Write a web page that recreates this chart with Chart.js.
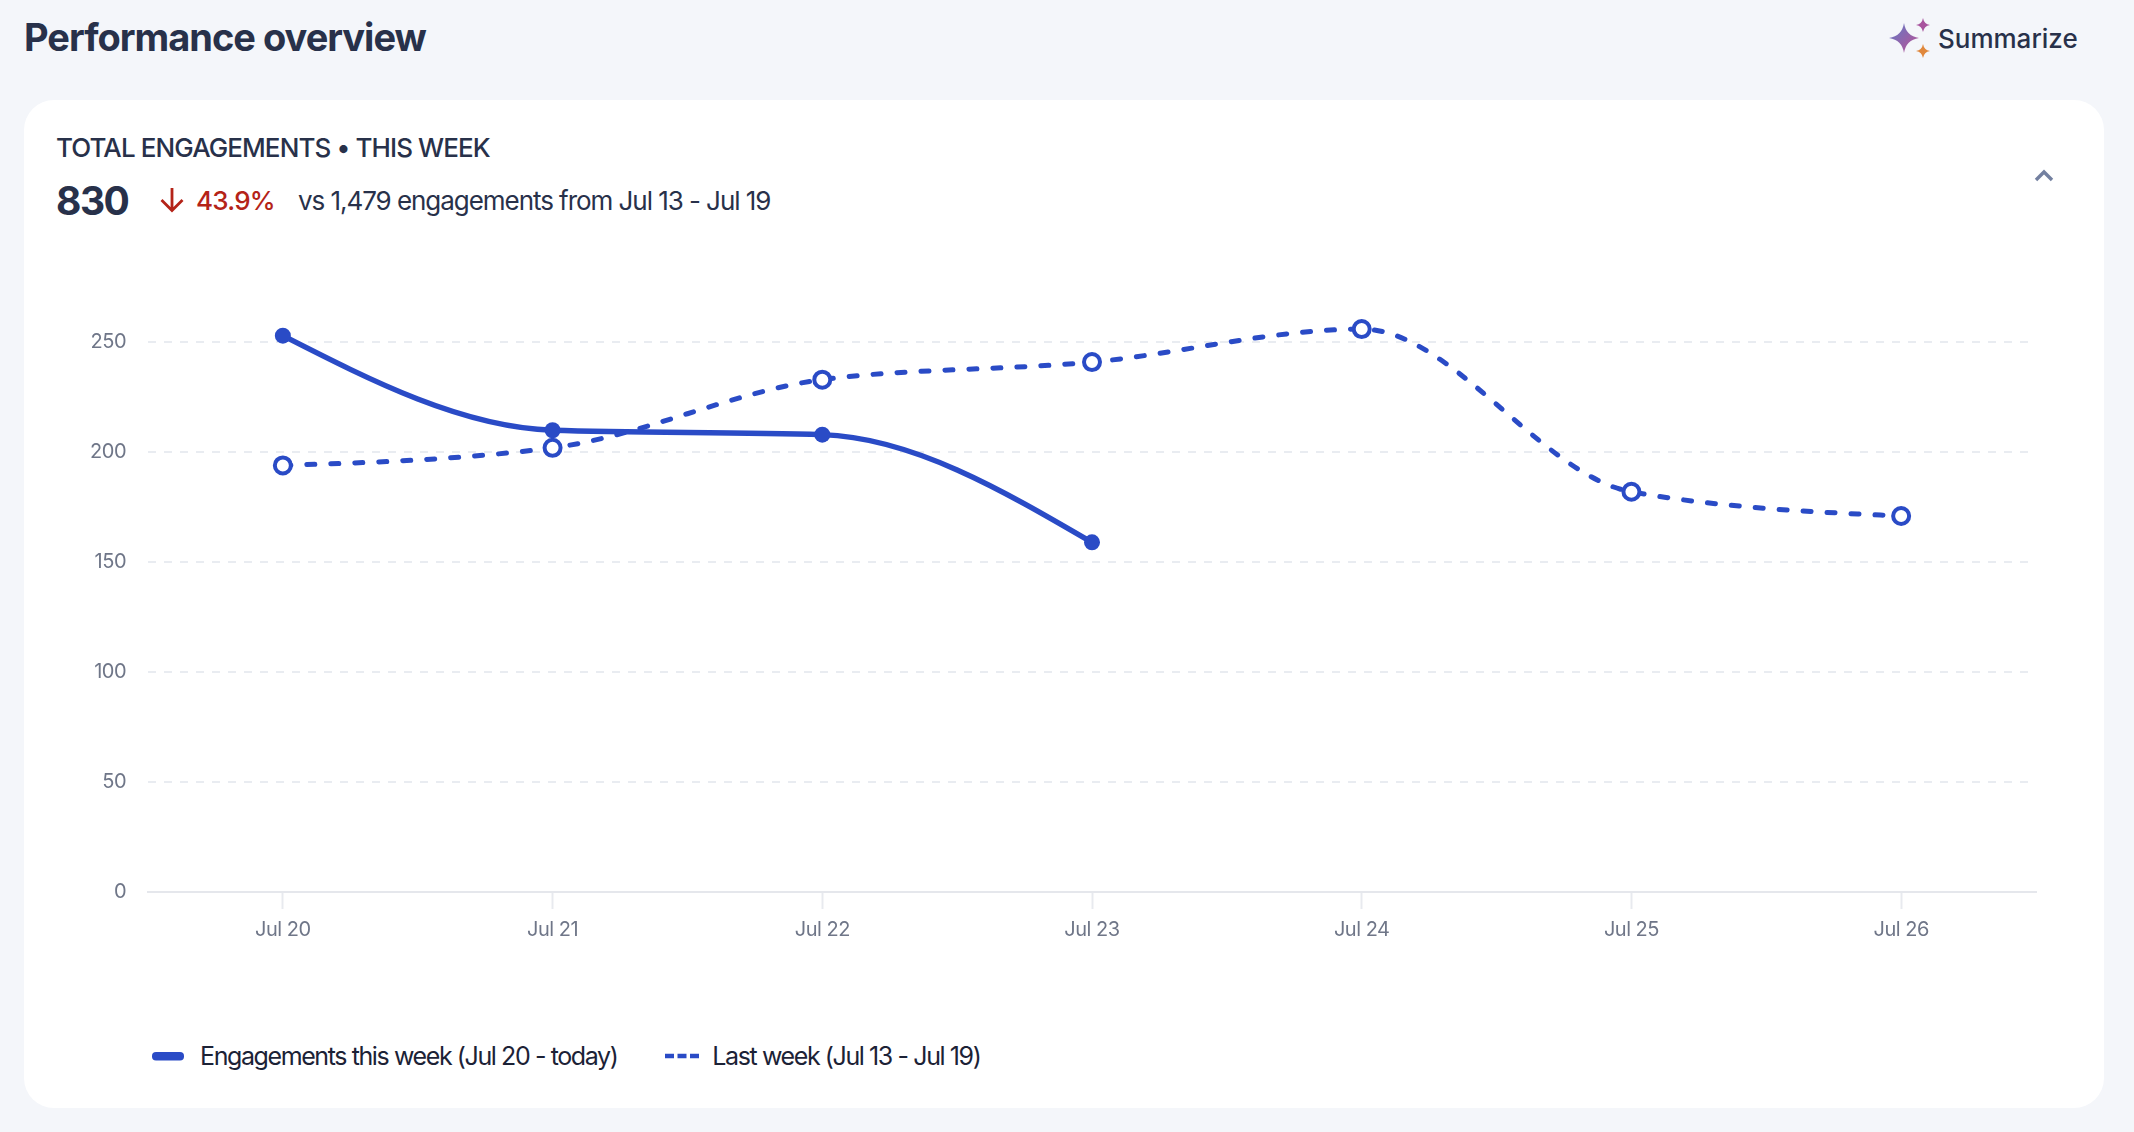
<!DOCTYPE html>
<html>
<head>
<meta charset="utf-8">
<title>Performance overview</title>
<script src="https://cdn.jsdelivr.net/npm/chart.js@4"></script>
<style>
  html, body { margin: 0; padding: 0; }
  body { width: 2134px; height: 1132px; background: #f4f6fa; position: relative; overflow: hidden;
         font-family: Inter, sans-serif; color: #28314a; }
  .abs { position: absolute; white-space: nowrap; line-height: 1; }
  #card { position: absolute; left: 24px; top: 100px; width: 2080px; height: 1008px; background: #fff; border-radius: 30px; }
  #title { left: 24px; top: 18px; font-size: 38px; font-weight: 650; letter-spacing: -1px; }
  #summarize { left: 1938px; top: 26px; font-size: 26px; font-weight: 500; }
  #kicker { left: 56px; top: 135px; font-size: 26px; font-weight: 500; letter-spacing: -0.9px; }
  #total { left: 56px; top: 181px; font-size: 39px; font-weight: 700; letter-spacing: -1.5px; }
  #delta { left: 196px; top: 188px; font-size: 26px; font-weight: 500; color: #b42318; letter-spacing: -0.75px; }
  #versus { left: 298px; top: 188px; font-size: 26px; letter-spacing: -1.05px; }
  #chartBox { position: absolute; left: 60px; top: 250px; width: 2000px; height: 702px; }
  #legend { position: absolute; left: 152px; top: 1040px; display: flex; align-items: center; font-size: 25px;
            letter-spacing: -1.4px; color: #1c2236; line-height: 32px; }
  #legend svg { margin-right: 16px; display: block; }
  #legend span { margin-right: 48px; }
</style>
</head>
<body>
<div id="card"></div>
<div class="abs" id="title">Performance overview</div>
<svg class="abs" style="left:1886px;top:14px" width="50" height="50" viewBox="0 0 50 50">
  <defs>
    <linearGradient id="spark" x1="0" y1="0" x2="1" y2="1">
      <stop offset="0" stop-color="#5d7cc8"/>
      <stop offset="1" stop-color="#c04f92"/>
    </linearGradient>
  </defs>
  <path d="M18 9 Q20 22 33 24 Q20 26 18 39 Q16 26 3 24 Q16 22 18 9Z" fill="url(#spark)"/>
  <path d="M37 4 Q38 10 44 11 Q38 12 37 18 Q36 12 30 11 Q36 10 37 4Z" fill="#a8549e"/>
  <path d="M37 30 Q38 36 44 37 Q38 38 37 44 Q36 38 30 37 Q36 36 37 30Z" fill="#e0883c"/>
</svg>
<div class="abs" id="summarize">Summarize</div>
<div class="abs" id="kicker">TOTAL ENGAGEMENTS • THIS WEEK</div>
<div class="abs" id="total">830</div>
<svg class="abs" style="left:159px;top:186px" width="26" height="28" viewBox="0 0 26 28" fill="none" stroke="#b42318" stroke-width="2.8">
  <path d="M13 2 V25 M2.5 14 L13 24.5 L23.5 14"/>
</svg>
<div class="abs" id="delta">43.9%</div>
<div class="abs" id="versus">vs 1,479 engagements from Jul 13 - Jul 19</div>
<svg class="abs" style="left:2032px;top:166px" width="24" height="18" viewBox="0 0 24 18" fill="none" stroke="#7380a0" stroke-width="3.4">
  <path d="M4 14 L12 6 L20 14"/>
</svg>
<div id="chartBox"><canvas id="chart"></canvas></div>
<div id="legend"></div>

<script>
const days = ['Jul 20', 'Jul 21', 'Jul 22', 'Jul 23', 'Jul 24', 'Jul 25', 'Jul 26'];
const thisWeek = [253, 210, 208, 159];
const lastWeek = [194, 202, 233, 241, 256, 182, 171];
const yTicks = [0, 50, 100, 150, 200, 250];
const thisWeekLabel = 'Engagements this week (Jul 20 - today)';
const lastWeekLabel = 'Last week (Jul 13 - Jul 19)';

const blue = '#2a4bc6';
const gridColor = '#e9ecf1';
const tickColor = '#6f7688';
const tickFont = { family: 'Inter, sans-serif', size: 20 };

// tighter text on the canvas, the original font is narrower than Inter
const tightText = {
    id: 'tightText',
    beforeDraw(chart) {
        chart.ctx.letterSpacing = '-0.5px';
    }
};

// the original curve keeps a real slope at the line ends (d3 style monotone),
// chart.js monotone flattens more, so the tangents are redone from the scaled points
const monotoneEnds = {
    id: 'monotoneEnds',
    beforeDatasetsDraw(chart) {
        chart.getSortedVisibleDatasetMetas().forEach(meta => {
            meta.dataset.updateControlPoints(chart.chartArea, 'x');
            const pts = meta.data;
            const n = pts.length;
            const sec = i => (pts[i + 1].y - pts[i].y) / (pts[i + 1].x - pts[i].x);
            const slopes = pts.map((p, i) => {
                if (i === 0 || i === n - 1) return 0;
                const a = sec(i - 1), b = sec(i);
                const mid = (a + b) / 2;
                return (Math.sign(a) + Math.sign(b)) * Math.min(Math.abs(a), Math.abs(b), 0.5 * Math.abs(mid));
            });
            slopes[0] = (3 * sec(0) - slopes[1]) / 2;
            slopes[n - 1] = (3 * sec(n - 2) - slopes[n - 2]) / 2;
            pts.forEach((p, i) => {
                const dx = (i < n - 1 ? pts[i + 1].x - p.x : p.x - pts[i - 1].x) / 3;
                p.cp1x = p.x - dx;
                p.cp1y = p.y - dx * slopes[i];
                p.cp2x = p.x + dx;
                p.cp2y = p.y + dx * slopes[i];
            });
        });
    }
};

new Chart(document.getElementById('chart'), {
    type: 'line',
    data: {
        labels: days,
        datasets: [
            {
                label: thisWeekLabel,
                data: thisWeek,
                borderColor: blue,
                backgroundColor: blue,
                borderWidth: 5.5,
                cubicInterpolationMode: 'monotone',
                pointRadius: 8,
                pointBackgroundColor: blue,
                pointBorderWidth: 0
            },
            {
                label: lastWeekLabel,
                data: lastWeek,
                borderColor: blue,
                backgroundColor: '#fff',
                borderWidth: 5,
                borderDash: [8, 16],
                borderCapStyle: 'round',
                cubicInterpolationMode: 'monotone',
                pointRadius: 8,
                pointBackgroundColor: '#fff',
                pointBorderColor: blue,
                pointBorderWidth: 4
            }
        ]
    },
    plugins: [tightText, monotoneEnds],
    options: {
        responsive: true,
        maintainAspectRatio: false,
        animation: false,
        layout: { padding: { top: 20, right: 24, left: 0, bottom: 0 } },
        plugins: {
            legend: { display: false },
            tooltip: { enabled: false }
        },
        scales: {
            x: {
                offset: true,
                grid: {
                    drawOnChartArea: false,
                    drawTicks: true,
                    tickLength: 17,
                    tickWidth: 2,
                    tickColor: '#e8eaef',
                    offset: false
                },
                border: { display: true, color: '#e5e7ec', width: 2 },
                ticks: { color: tickColor, font: tickFont, padding: 9, maxRotation: 0, autoSkip: false },
                afterFit(scale) { scale.height = 60; }
            },
            y: {
                min: 0,
                max: 276.5,
                afterBuildTicks(scale) { scale.ticks = yTicks.map(value => ({ value })); },
                grid: {
                    drawTicks: false,
                    lineWidth: 2,
                    color: ctx => ctx.tick.value === 0 ? 'transparent' : gridColor
                },
                border: { display: false, dash: [8, 8] },
                ticks: { color: tickColor, font: tickFont, padding: 22 },
                afterFit(scale) { scale.width = 88; }
            }
        }
    }
});

// legend is plain html, same entries as the datasets
const legend = document.getElementById('legend');
const swatches = [
    `<svg width="32" height="10"><rect x="0" y="1" width="32" height="8.5" rx="4" fill="${blue}"/></svg>`,
    `<svg width="34" height="10" style="margin-right:13px"><path d="M0 5 H34" stroke="${blue}" stroke-width="4.5" stroke-dasharray="9 3.5"/></svg>`
];
[thisWeekLabel, lastWeekLabel].forEach((text, i) => {
    legend.insertAdjacentHTML('beforeend', swatches[i] + `<span>${text}</span>`);
});
</script>
</body>
</html>
